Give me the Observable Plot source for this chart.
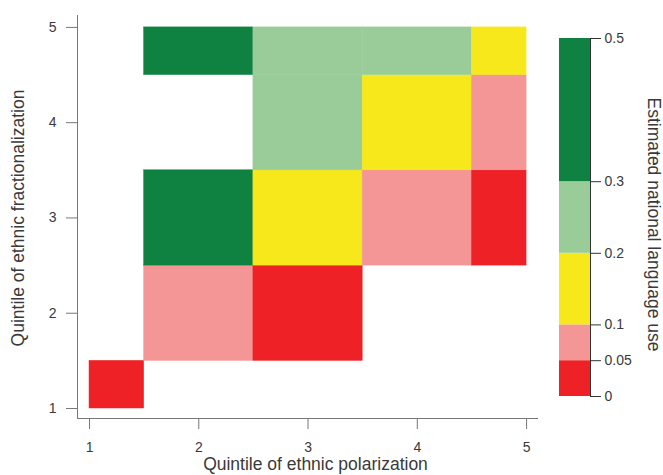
<!DOCTYPE html>
<html>
<head>
<meta charset="utf-8">
<script src="https://cdn.jsdelivr.net/npm/d3@7"></script>
<script src="https://cdn.jsdelivr.net/npm/@observablehq/plot@0.6"></script>
<style>
  html, body { margin: 0; padding: 0; background: #fff; }
  #chart { position: relative; width: 663px; height: 475px; font-family: "Liberation Sans", Arial, sans-serif; }
  #chart svg { position: absolute; left: 0; top: 0; }
</style>
</head>
<body>
<div id="chart"></div>
<script>
// Data
const polarization     = [1, 2, 3, 2, 3, 4, 5, 3, 4, 5, 2, 3, 4, 5];
const fractionalization = [1, 2, 2, 3, 3, 3, 3, 4, 4, 4, 5, 5, 5, 5];
const languageUse      = [0.03, 0.07, 0.03, 0.4, 0.15, 0.07, 0.03, 0.25, 0.15, 0.07, 0.4, 0.25, 0.25, 0.15];

const quintileTicks = [1, 2, 3, 4, 5];
const legendBreaks = [0, 0.05, 0.1, 0.2, 0.3, 0.5];
const legendColors = ["#ee2226", "#f49696", "#f6e81a", "#9acc9a", "#0f8140"];

const xTitle = "Quintile of ethnic polarization";
const yTitle = "Quintile of ethnic fractionalization";
const legendTitle = "Estimated national language use";

const cells = polarization.map((p, i) => ({x: p, y: fractionalization[i], v: languageUse[i]}));
const bands = legendBreaks.slice(0, -1).map((b, i) => ({lo: b, hi: legendBreaks[i + 1], v: (b + legendBreaks[i + 1]) / 2}));

const colorScale = {type: "threshold", domain: legendBreaks.slice(1, -1), range: legendColors};
const lo = 1, hi = 5;
const textColor = "#3a3a3a";
const axisColor = "#777";

const main = Plot.plot({
  width: 663,
  height: 475,
  marginLeft: 77,
  marginRight: 126,
  marginTop: 15,
  marginBottom: 57,
  style: {fontFamily: "Liberation Sans, Arial, sans-serif", color: textColor, background: "transparent"},
  x: {domain: [0.89, 5.1]},
  y: {domain: [0.895, 5.125]},
  color: colorScale,
  marks: [
    Plot.rect(cells, {
      x1: d => Math.max(lo, d.x - 0.5),
      x2: d => Math.min(hi, d.x + 0.5),
      y1: d => Math.max(lo, d.y - 0.5),
      y2: d => Math.min(hi, d.y + 0.5),
      fill: "v",
      stroke: "v",
      strokeWidth: 0.5
    }),
    Plot.axisX({ticks: quintileTicks, tickFormat: d3.format("d"), tickSize: 11, tickPadding: 13, fontSize: 14, label: null, stroke: axisColor, fill: textColor}),
    Plot.axisY({ticks: quintileTicks, tickFormat: d3.format("d"), tickSize: 11, tickPadding: 10, fontSize: 14, label: null, stroke: axisColor, fill: textColor}),
    Plot.frame({anchor: "left", stroke: axisColor}),
    Plot.frame({anchor: "bottom", stroke: axisColor}),
    Plot.text([xTitle], {frameAnchor: "bottom", text: d => d, textAnchor: "middle", lineAnchor: "middle", dy: 46, dx: 8, fontSize: 17.5, fill: textColor}),
    Plot.text([yTitle], {frameAnchor: "left", text: d => d, textAnchor: "middle", lineAnchor: "middle", rotate: -90, dx: -59, dy: 1, fontSize: 17.5, fill: textColor})
  ]
});

const legend = Plot.plot({
  width: 663,
  height: 475,
  marginLeft: 559,
  marginRight: 73,
  marginTop: 38,
  marginBottom: 79,
  style: {fontFamily: "Liberation Sans, Arial, sans-serif", color: textColor, background: "transparent"},
  x: {axis: null, domain: [0, 1]},
  y: {domain: [0, 0.5]},
  color: colorScale,
  marks: [
    Plot.rect(bands, {y1: "lo", y2: "hi", fill: "v"}),
    Plot.axisY({anchor: "right", ticks: legendBreaks, tickFormat: d => String(d), tickSize: 10, tickPadding: 4, fontSize: 14, label: null, stroke: "#333", fill: textColor}),
    Plot.frame({anchor: "right", stroke: "#333"}),
    Plot.text([legendTitle], {frameAnchor: "right", text: d => d, textAnchor: "middle", lineAnchor: "middle", rotate: 90, dx: 63, dy: 7, fontSize: 17.5, fill: textColor})
  ]
});

const chart = document.getElementById("chart");
chart.appendChild(main);
chart.appendChild(legend);
</script>
</body>
</html>
